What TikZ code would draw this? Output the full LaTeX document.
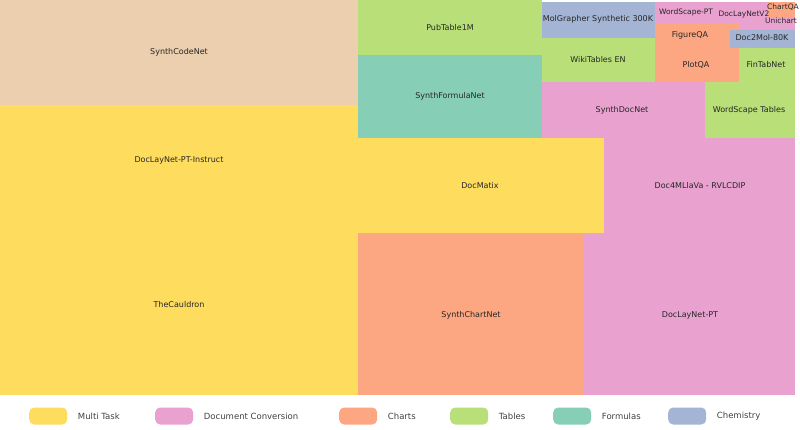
\documentclass[tikz,border=0pt]{standalone}
\usepackage{fontspec}
\setmainfont{DejaVu Sans}
\begin{document}
\begin{tikzpicture}[x=1pt,y=-1pt,
  lab/.style={font=\fontsize{8}{9}\selectfont, text=black!85, inner sep=1pt},
  sm/.style={font=\fontsize{7.5}{8}\selectfont, text=black!85, inner sep=0.5pt},
  leg/.style={font=\fontsize{8.5}{10}\selectfont, text=black!75, anchor=west},
  sw/.style={rounded corners=5pt, minimum width=38pt, minimum height=17pt, inner sep=0pt}]
\definecolor{cY}{HTML}{FEDD5E}
\definecolor{cP}{HTML}{E9A2CF}
\definecolor{cO}{HTML}{FCA682}
\definecolor{cG}{HTML}{B8DF78}
\definecolor{cT}{HTML}{86CFB6}
\definecolor{cB}{HTML}{A4B4D4}
\definecolor{cK}{HTML}{EBCFAE}
\fill[white] (0,0) rectangle (800,430);
\useasboundingbox (0,0) rectangle (800,430);
\fill[cK] (0,0) rectangle (358,105);
\fill[cY] (0,105) rectangle (358,395);
\fill[cG] (358,0) rectangle (542,55);
\fill[cT] (358,55) rectangle (542,138);
\fill[cB] (542,2) rectangle (655,38);
\fill[cG] (542,38) rectangle (655,82);
\fill[cP] (655,2) rectangle (795,30);
\fill[cO] (767,2) rectangle (795,18);
\fill[cO] (655,24) rectangle (739,82);
\fill[cP] (655,2) rectangle (767,24);
\fill[cB] (730,30) rectangle (795,48);
\fill[cG] (739,48) rectangle (795,82);
\fill[cP] (542,82) rectangle (795,138);
\fill[cG] (705,82) rectangle (795,138);
\fill[cY] (358,138) rectangle (604,233);
\fill[cP] (604,138) rectangle (795,233);
\fill[cO] (358,233) rectangle (584,395);
\fill[cP] (584,233) rectangle (795,395);
\node[lab] (a) at (179,52) {SynthCodeNet};
\node[lab] (b) at (179,160) {DocLayNet-PT-Instruct};
\node[lab] (c) at (179,305) {TheCauldron};
\node[lab] (d) at (450,28) {PubTable1M};
\node[lab] (e) at (450,96) {SynthFormulaNet};
\node[lab] (f) at (598,19) {MolGrapher Synthetic 300K};
\node[lab] (g) at (598,60) {WikiTables EN};
\node[sm] (h) at (686,12) {WordScape-PT};
\node[sm] (i) at (744,15) {DocLayNetV2};
\node[sm] (j) at (783,7) {ChartQA};
\node[sm] (k) at (781,21) {Unichart};
\node[lab] (l) at (690,35) {FigureQA};
\node[lab] (m) at (696,65) {PlotQA};
\node[lab] (n) at (762,38) {Doc2Mol-80K};
\node[lab] (o) at (766,65) {FinTabNet};
\node[lab] (p) at (622,110) {SynthDocNet};
\node[lab] (q) at (749,110) {WordScape Tables};
\node[lab] (r) at (480,186) {DocMatix};
\node[lab] (s) at (700,186) {Doc4MLlaVa - RVLCDIP};
\node[lab] (t) at (471,315) {SynthChartNet};
\node[lab] (u) at (690,315) {DocLayNet-PT};
\foreach \c/\x/\t [count=\i] in {cY/29/Multi Task,cP/155/Document Conversion,cO/339/Charts,cG/450/Tables,cT/553/Formulas,cB/668/Chemistry}{
  \node[sw, fill=\c, anchor=west] (sw\i) at (\x,416) {};
  \node[leg] (lg\i) at ([xshift=7pt]sw\i.east) {\t};
}
\end{tikzpicture}
\end{document}
